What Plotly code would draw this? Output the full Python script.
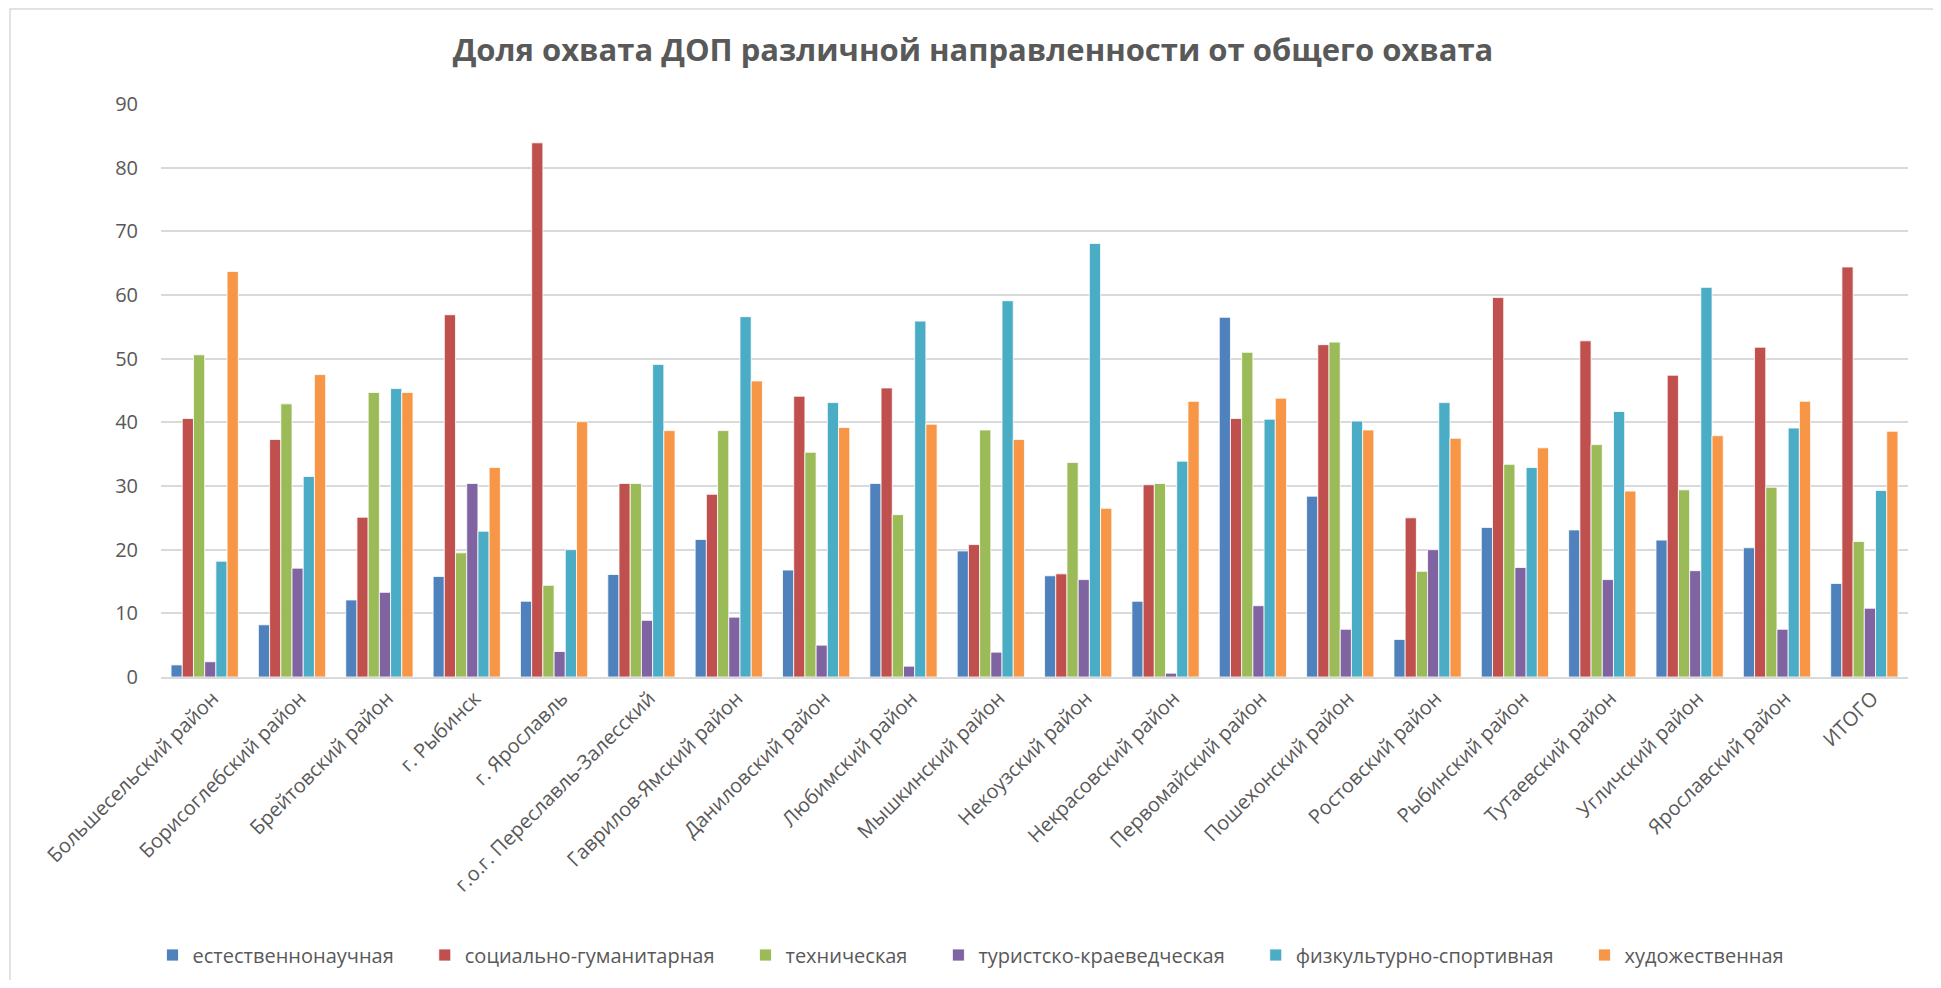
import plotly.graph_objects as go

categories = ["Большесельский район", "Борисоглебский район", "Брейтовский район", "г. Рыбинск",
              "г. Ярославль", "г.о.г. Переславль-Залесский", "Гаврилов-Ямский район",
              "Даниловский район", "Любимский район", "Мышкинский район", "Некоузский район",
              "Некрасовский район", "Первомайский район", "Пошехонский район", "Ростовский район",
              "Рыбинский район", "Тутаевский район", "Угличский район", "Ярославский район", "ИТОГО"]

estestv = [1.9, 8.2, 12.1, 15.8, 11.9, 16.1, 21.6, 16.8, 30.4, 19.8, 15.9, 11.9, 56.5, 28.4, 5.9, 23.5, 23.1, 21.5, 20.3, 14.7]
social = [40.6, 37.3, 25.1, 56.9, 83.9, 30.4, 28.7, 44.1, 45.4, 20.8, 16.2, 30.2, 40.6, 52.2, 25.0, 59.6, 52.8, 47.4, 51.8, 64.4]
tech = [50.6, 42.9, 44.7, 19.5, 14.4, 30.4, 38.7, 35.3, 25.5, 38.8, 33.7, 30.4, 51.0, 52.6, 16.6, 33.4, 36.5, 29.4, 29.8, 21.3]
tourism = [2.4, 17.1, 13.3, 30.4, 4.0, 8.9, 9.4, 5.0, 1.7, 3.9, 15.3, 0.6, 11.2, 7.5, 20.0, 17.2, 15.3, 16.7, 7.5, 10.8]
sport = [18.2, 31.5, 45.3, 22.9, 20.0, 49.1, 56.6, 43.1, 55.9, 59.1, 68.1, 33.9, 40.5, 40.2, 43.1, 32.9, 41.7, 61.2, 39.1, 29.3]
art = [63.7, 47.5, 44.7, 32.9, 40.1, 38.7, 46.5, 39.2, 39.7, 37.3, 26.5, 43.3, 43.8, 38.8, 37.5, 36.0, 29.2, 37.9, 43.3, 38.6]

series_names = ["естественнонаучная", "социально-гуманитарная", "техническая",
                "туристско-краеведческая", "физкультурно-спортивная", "художественная"]
series_values = [estestv, social, tech, tourism, sport, art]
colors = ["#4F81BD", "#C0504D", "#9BBB59", "#8064A2", "#4BACC6", "#F79646"]

FONT = "Open Sans"
GRAY = "#595959"
PAD = "\u00a0" * 5  # extra spacing between legend entries

fig = go.Figure()
n = len(series_names)
for i, (name, vals, col) in enumerate(zip(series_names, series_values, colors)):
    fig.add_trace(go.Bar(
        x=categories, y=vals, name=name + (PAD if i < n - 1 else ""),
        marker=dict(color=col, line=dict(color="white", width=0.8)),
    ))

# page has an 8px body margin; figure coords = page coords - 8
W, H = 1933, 972
L, R, T, B = 153, 33, 96, 303
pw = W - L - R
ph = H - T - B

def px_to_paper_x(px):
    return (px - 8 - L) / pw

def px_to_paper_y(py):
    return (H - B - (py - 8)) / ph

fig.update_layout(
    width=W, height=H,
    margin=dict(l=L, r=R, t=T, b=B, autoexpand=False),
    paper_bgcolor="white", plot_bgcolor="white",
    barmode="group", bargap=0.23, bargroupgap=0,
    font=dict(family=FONT, color=GRAY, size=20),
    title=dict(
        text="<b>Доля охвата ДОП различной направленности от общего охвата</b>",
        x=(973 - 8) / W, xref="container", xanchor="center",
        y=1 - (50 - 8) / H, yref="container", yanchor="middle",
        font=dict(family=FONT, size=31, color=GRAY),
    ),
    xaxis=dict(
        tickangle=-45, tickfont=dict(size=20, color=GRAY, family=FONT),
        showgrid=False, showline=True, linecolor="#d9d9d9", linewidth=1.5,
        ticks="", automargin=False, ticklabelshift=8,
    ),
    yaxis=dict(
        range=[0, 90], dtick=10, tickfont=dict(size=20, color=GRAY, family=FONT),
        showgrid=True, gridcolor="#d9d9d9", gridwidth=1.5,
        zeroline=False, showline=False, ticks="", ticklabelstandoff=22,
        automargin=False,
    ),
    legend=dict(
        orientation="h", x=px_to_paper_x(971), xanchor="center",
        y=px_to_paper_y(955), yanchor="middle",
        font=dict(size=20, color=GRAY, family=FONT),
        traceorder="normal",
    ),
    shapes=[dict(
        type="rect", xref="paper", yref="paper",
        x0=px_to_paper_x(10), x1=px_to_paper_x(1937),
        y0=px_to_paper_y(1000), y1=px_to_paper_y(9),
        line=dict(color="#d9d9d9", width=1.5), fillcolor="rgba(0,0,0,0)", layer="below",
    )],
)

fig.write_html("out.html")
